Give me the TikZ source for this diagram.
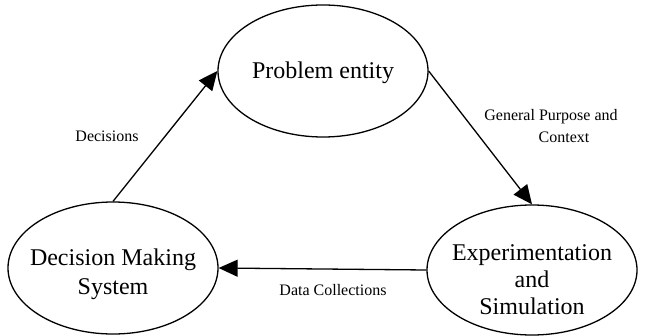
\documentclass[tikz,border=0pt]{standalone}
\usepackage{fontspec}
\setmainfont{Liberation Serif}
\usetikzlibrary{shapes.geometric,arrows.meta}
\begin{document}
\begin{tikzpicture}[x=0.5pt,y=-0.5pt,
  ell/.style={draw,line width=0.65pt,ellipse,inner sep=0pt,minimum width=105pt,minimum height=66pt},
  bigtxt/.style={align=center,font=\fontsize{12}{14.5}\selectfont,inner sep=0pt},
  lbl/.style={align=center,font=\fontsize{8}{11}\selectfont,inner sep=0pt},
  arr/.style={line width=0.65pt,-{Triangle[length=9.5pt,width=8.5pt]}}]
\useasboundingbox (0,0) rectangle (646,336);
\node[ell] (pe) at (323,71) {};
\node[bigtxt] (pet) at (323,73) {Problem entity};
\node[ell] (dms) at (113,268) {};
\node[bigtxt] (dmst) at (113,274) {Decision Making\\System};
\node[ell,minimum height=65pt] (exp) at (532,270) {};
\node[bigtxt,font=\fontsize{12}{13.5}\selectfont] (expt) at (532,280) {Experimentation\\and\\Simulation};
\draw[arr] (dms.north) -- (pe.west);
\draw[arr] (pe.east) -- (exp.north);
\draw[arr] (exp.west) -- (dms.east);
\node[lbl] (l1) at (107,136) {Decisions};
\node[lbl] (l2) at (551,126) {General Purpose and\\\hspace*{13pt}Context};
\node[lbl] (l3) at (333,290) {Data Collections};
\end{tikzpicture}
\end{document}
